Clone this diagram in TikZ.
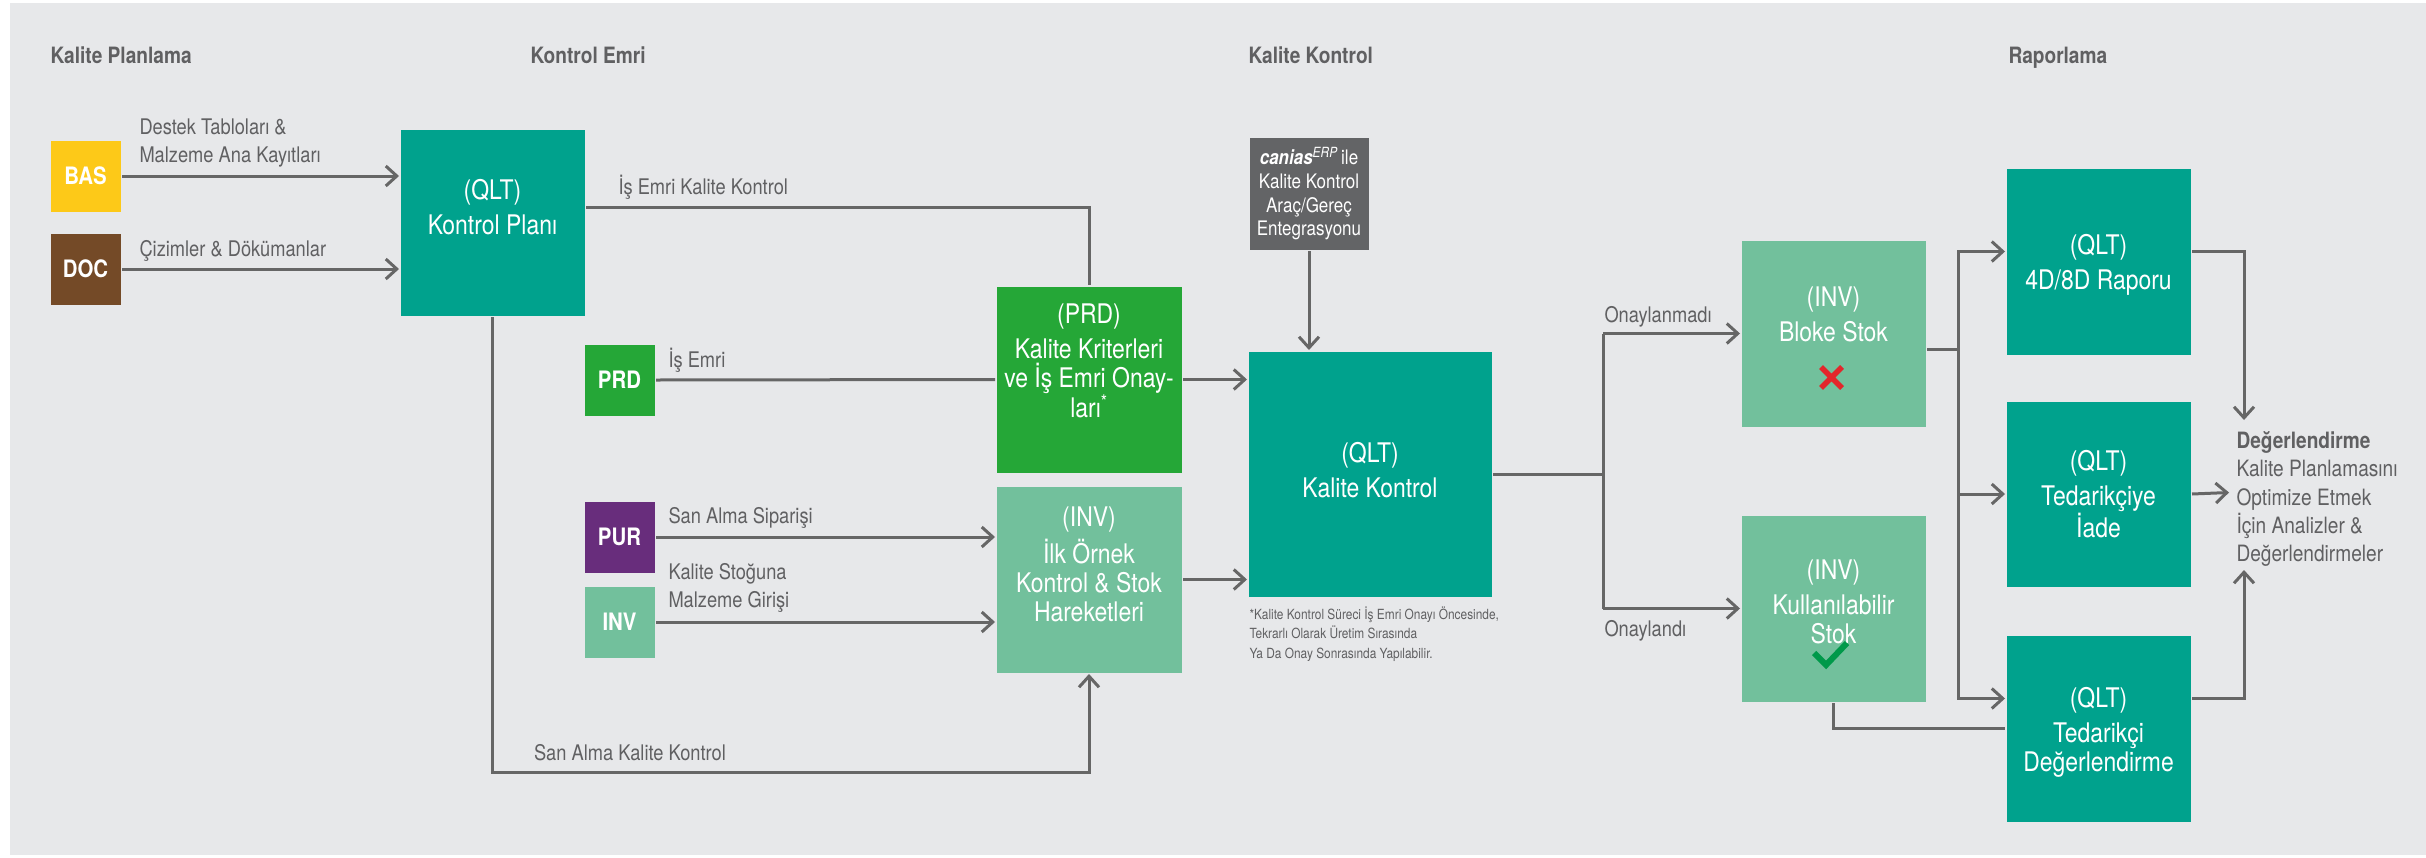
\documentclass[tikz,border=0pt]{standalone}
\usepackage{fontspec}
\setmainfont{TeX Gyre Heros}[FakeStretch=0.85]
\usetikzlibrary{arrows.meta}

\definecolor{bgcol}{HTML}{E7E8EA}
\definecolor{linecol}{HTML}{666666}
\definecolor{txtcol}{HTML}{606062}
\definecolor{qltcol}{HTML}{00A28D}
\definecolor{prdcol}{HTML}{25A737}
\definecolor{invcol}{HTML}{72C09C}
\definecolor{bascol}{HTML}{FDC918}
\definecolor{doccol}{HTML}{744A27}
\definecolor{purcol}{HTML}{682D7C}
\definecolor{erpcol}{HTML}{636466}
\definecolor{nokcol}{HTML}{E3262B}
\definecolor{okcol}{HTML}{00994A}

\tikzstyle{qbox}=[inner sep=0pt, minimum width=184pt, minimum height=186pt, anchor=north west]
\tikzstyle{smallbox}=[qbox, minimum width=70pt, minimum height=71pt, text=white, font=\bfseries\fontsize{24}{24}\selectfont]
\tikzstyle{boxtext}=[text=white, align=center, inner sep=0pt, font=\fontsize{27}{29}\selectfont]
\tikzstyle{lbl}=[text=txtcol, align=left, inner sep=0pt, anchor=base west, font=\fontsize{21.5}{28}\selectfont]
\tikzstyle{title}=[text=txtcol, inner sep=0pt, anchor=base west, font=\bfseries\fontsize{22.5}{27}\selectfont]
\tikzstyle{foot}=[text=txtcol, align=left, inner sep=0pt, anchor=north west, font=\fontsize{14}{19.5}\selectfont]
\tikzstyle{evaltext}=[text=txtcol, align=left, inner sep=0pt, anchor=north west, font=\fontsize{22.5}{28.3}\selectfont]

\begin{document}
\begin{tikzpicture}[x=1pt, y=-1pt, line width=3pt, color=linecol, >={Straight Barb[length=11pt,width=20pt]}]

\useasboundingbox (0,0) rectangle (2426,857);
\fill[white] (0,0) rectangle (2426,857);
\fill[bgcol] (10,3) rectangle (2426,855);

% TITLES
\node[title] (tplan) at (49,63) {Kalite Planlama};
\node[title] (temri) at (529,63) {Kontrol Emri};
\node[title] (tkk) at (1247,63) {Kalite Kontrol};
\node[title] (trapor) at (2007,63) {Raporlama};

% KALITE PLANLAMA
\node[smallbox, fill=bascol] (bas) at (49,139) {BAS};
\node[smallbox, fill=doccol] (doc) at (49,232) {DOC};

% KONTROL EMRI
\node[qbox, fill=qltcol] (kp) at (399,128) {};
\node[boxtext] (kptxt) at ([yshift=15pt]kp.center) {(QLT)\\[6pt]Kontrol Planı};
\node[smallbox, fill=prdcol] (prd) at (583,343) {PRD};
\node[smallbox, fill=purcol] (pur) at (583,500) {PUR};
\node[smallbox, fill=invcol] (inv) at (583,585) {INV};
\node[qbox, fill=prdcol, minimum width=185pt] (prdb) at (995,285) {};
\node[boxtext] (prdtxt) at ([yshift=19pt]prdb.center) {(PRD)\\[6pt]Kalite Kriterleri\\ve İş Emri Onay-\\ları\textsuperscript{*}};
\node[qbox, fill=invcol, minimum width=185pt] (invb) at (995,485) {};
\node[boxtext] (invtxt) at ([yshift=15.5pt]invb.center) {(INV)\\[6pt]İlk Örnek\\Kontrol \& Stok\\Hareketleri};

% KALITE KONTROL
\node[qbox, fill=erpcol, minimum width=119pt, minimum height=112pt, text=white, align=center, font=\fontsize{20}{23.7}\selectfont] (erp) at (1248,136) {\textbf{\textit{canias}}\textsuperscript{\textit{ERP}}\,ile\\Kalite Kontrol\\Araç/Gereç\\Entegrasyonu};
\node[qbox, fill=qltcol, minimum width=243pt, minimum height=245pt] (kk) at (1247,350) {};
\node[boxtext] (kktxt) at ([yshift=4pt]kk.center) {(QLT)\\[6pt]Kalite Kontrol};
\node[foot] (fn) at (1248,605) {*Kalite Kontrol Süreci İş Emri Onayı Öncesinde,\\Tekrarlı Olarak Üretim Sırasında\\Ya Da Onay Sonrasında Yapılabilir.};
\node[qbox, fill=invcol] (bloke) at (1740,239) {};
\node[boxtext] (bloketxt) at ([yshift=19.5pt]bloke.center) {(INV)\\[6pt]Bloke Stok};
\node[qbox, fill=invcol] (kul) at (1740,514) {};
\node[boxtext] (kultxt) at ([yshift=7pt]kul.center) {(INV)\\[6pt]Kullanılabilir\\Stok};
\draw[nokcol, line width=5.5pt] (1821,367) -- (1842,388) (1842,367) -- (1821,388);
\draw[okcol, line width=6pt] (1814,653) -- (1826,665) -- (1847,643);

% RAPORLAMA
\node[qbox, fill=qltcol] (r4d) at (2005,167) {};
\node[boxtext] (r4dtxt) at ([yshift=-3pt]r4d.center) {(QLT)\\[6pt]4D/8D Raporu};
\node[qbox, fill=qltcol, minimum height=185pt] (tia) at (2005,400) {};
\node[boxtext] (tiatxt) at (tia.center) {(QLT)\\[6pt]Tedarikçiye\\İade};
\node[qbox, fill=qltcol] (tde) at (2005,634) {};
\node[boxtext] (tdetxt) at ([yshift=-4pt]tde.center) {(QLT)\\[6pt]Tedarikçi\\Değerlendirme};
\node[evaltext] (eval) at (2235,430) {\textbf{Değerlendirme}\\Kalite Planlamasını\\Optimize Etmek\\İçin Analizler \&\\Değerlendirmeler};
\coordinate (evtop) at (2244,420);
\coordinate (evin) at (2229,492.5);
\coordinate (evbot) at (2244,570);

% CONNECTORS
\draw[->] (bas.east) node[lbl, xshift=16pt, yshift=14pt]{Destek Tabloları \&\\Malzeme Ana Kayıtları} -- (bas.east -| kp.west);
\draw[->] (doc.east) node[lbl, xshift=16pt, yshift=12.5pt]{Çizimler \& Dökümanlar} -- (doc.east -| kp.west);
\draw ([yshift=15pt]kp.east) node[lbl, xshift=31pt, yshift=13.3pt]{İş Emri Kalite Kontrol} -| (prdb.north);
\draw (prd.east) node[lbl, xshift=11pt, yshift=13pt]{İş Emri} -- (prdb.west);
\draw[->] (prdb.east) -- (prdb.east -| kk.west);
\draw[->] (pur.east) node[lbl, xshift=11pt, yshift=13.5pt]{San Alma Siparişi} -- (pur.east -| invb.west);
\draw[->] (inv.east) node[lbl, xshift=11pt, yshift=14.5pt]{Kalite Stoğuna\\Malzeme Girişi} -- (inv.east -| invb.west);
\draw[->] (kp.south) -- ++(0,455) node[lbl, xshift=40pt, yshift=12pt]{San Alma Kalite Kontrol} -| (invb.south);
\draw[->] (invb.east) -- (invb.east -| kk.west);
\draw[->] (erp.south) -- (erp.south |- kk.north);

\draw (kk.east) -- ++(110,0) coordinate (split);
\draw (split |- bloke.west) -- (split |- kul.west);
\draw[->] (split |- bloke.west) node[lbl, yshift=11.5pt]{Onaylanmadı} -- (bloke.west);
\draw[->] (split |- kul.west) node[lbl, yshift=-27.5pt]{Onaylandı} -- (kul.west);

\draw ([yshift=-16pt]bloke.east) -- ++(31,0) coordinate (bus);
\draw[->] (bus) |- ([yshift=10pt]r4d.west);
\draw[->] (bus) |- ([yshift=30pt]tde.west);
\draw[->] (bus |- tia.west) -- (tia.west);
\draw (kul.south) |- (tde.west);

\draw[->] ([yshift=10pt]r4d.east) -| (evtop);
\draw[->] (tia.east) -- (evin);
\draw[->] ([yshift=30pt]tde.east) -| (evbot);

\end{tikzpicture}
\end{document}
